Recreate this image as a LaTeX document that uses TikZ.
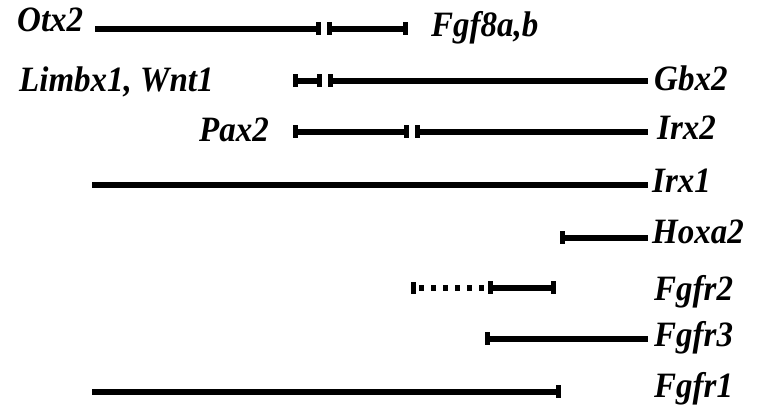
\documentclass[tikz,border=0pt]{standalone}
\usepackage{fontspec}
\setmainfont{Liberation Serif}
\usetikzlibrary{arrows.meta}
\begin{document}
\begin{tikzpicture}[x=1pt,y=-1pt,
  seg/.style={line width=5.5pt},
  tk/.tip={Rectangle[length=5pt,width=13pt]},
  lbl/.style={inner sep=0pt,font=\fontsize{33}{35}\selectfont\bfseries\itshape,yscale=1.08},
  dots/.style={line width=5.5pt,dash pattern=on 5pt off 7pt,dash phase=-6pt}]
\useasboundingbox (0,0) rectangle (763,411);
% labels
\node[lbl,anchor=base west] (otx) at (17,32) {Otx2};
\node[lbl,anchor=base west] (fgf8) at (431,37) {Fgf8a,b};
\node[lbl,anchor=base west] (limbx) at (19,92) {Limbx1, Wnt1};
\node[lbl,anchor=base west] (gbx) at (654,91) {Gbx2};
\node[lbl,anchor=base west] (pax) at (199,142) {Pax2};
\node[lbl,anchor=base west] (irx2) at (657,140) {Irx2};
\node[lbl,anchor=base west] (irx1) at (652,193) {Irx1};
\node[lbl,anchor=base west] (hox) at (652,244) {Hoxa2};
\node[lbl,anchor=base west] (fr2) at (654,301) {Fgfr2};
\node[lbl,anchor=base west] (fr3) at (654,347) {Fgfr3};
\node[lbl,anchor=base west] (fr1) at (654,398) {Fgfr1};
% coordinates
\coordinate (a1) at (95,29);  \coordinate (a2) at (321,29);
\coordinate (a3) at (327,29); \coordinate (a4) at (408,29);
\coordinate (b1) at (293,81); \coordinate (b2) at (322,81);
\coordinate (b3) at (328,81); \coordinate (b4) at (648,81);
\coordinate (c1) at (293,132); \coordinate (c2) at (409,132);
\coordinate (c3) at (415,132); \coordinate (c4) at (648,132);
\coordinate (d1) at (92,185); \coordinate (d4) at (648,185);
\coordinate (e1) at (560,238); \coordinate (e4) at (648,238);
\coordinate (f1) at (413,288); \coordinate (f2) at (488,288); \coordinate (f3) at (556,288);
\coordinate (g1) at (485,339); \coordinate (g4) at (648,339);
\coordinate (h1) at (92,392); \coordinate (h2) at (561,392);
% lines
\draw[seg,-{tk}] (a1) -- (a2);
\draw[seg,{tk}-{tk}] (a3) -- (a4);
\draw[seg,{tk}-{tk}] (b1) -- (b2);
\draw[seg,{tk}-] (b3) -- (b4);
\draw[seg,{tk}-{tk}] (c1) -- (c2);
\draw[seg,{tk}-] (c3) -- (c4);
\draw[seg] (d1) -- (d4);
\draw[seg,{tk}-] (e1) -- (e4);
\draw[dots] (f1) -- (f2);
\fill ([xshift=-2pt,yshift=-6pt]f1) rectangle ([xshift=3pt,yshift=6pt]f1);
\draw[seg,{tk}-{tk}] (f2) -- (f3);
\draw[seg,{tk}-] (g1) -- (g4);
\draw[seg,-{tk}] (h1) -- (h2);
\end{tikzpicture}
\end{document}
